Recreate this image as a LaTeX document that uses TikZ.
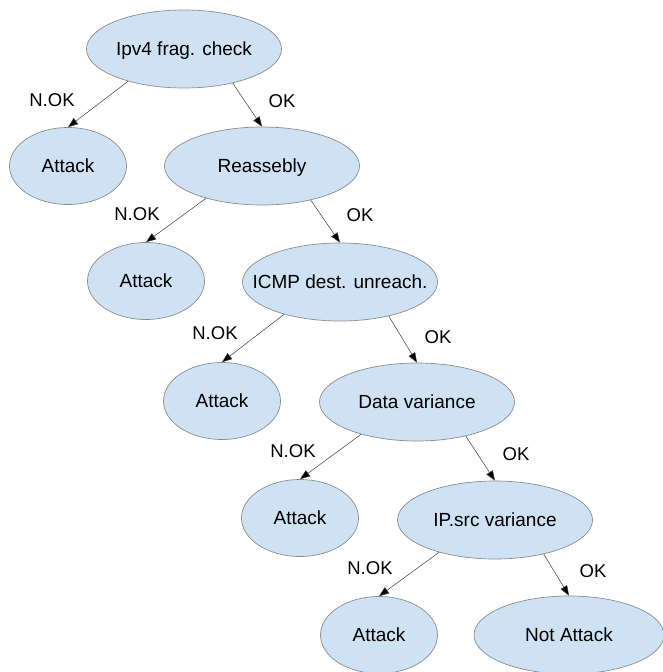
\documentclass[tikz,border=0pt]{standalone}
\usepackage{fontspec}
\setmainfont{Liberation Sans}
\usetikzlibrary{shapes.geometric,arrows.meta}
\definecolor{nodefill}{HTML}{CFE2F3}
\definecolor{nodeline}{HTML}{8C8C8C}
\definecolor{edgeline}{HTML}{3C3C3C}
\tikzset{
  test/.style={ellipse, draw=nodeline, line width=0.7pt, fill=nodefill,
    minimum width=195pt, minimum height=78pt, inner sep=0pt,
    text height=13.6pt, text depth=0pt,
    font=\fontsize{19}{22}\selectfont},
  tight/.style={test, inner xsep=-21pt},
  leaf/.style={test, minimum width=117pt, minimum height=77pt},
  wide/.style={test, minimum width=190pt},
  branch/.style={draw=edgeline, line width=0.5pt,
    -{Triangle[length=10pt,width=7.5pt,fill=black]}},
  lbl/.style={font=\fontsize{18.5}{22}\selectfont, inner sep=0pt,
    text height=13.3pt, text depth=0pt}
}
\begin{document}
\begin{tikzpicture}[x=1pt,y=-1pt]
\useasboundingbox (0,0) rectangle (662,672);

% decision chain
\node[test]  (d1) at (184,49)  {Ipv4 frag. check};
\node[leaf]  (a1) at (68,166)  {Attack};
\node[test]  (d2) at (262,166) {Reassebly};
\node[leaf]  (a2) at (146,281) {Attack};
\node[tight] (d3) at (340,282) {ICMP dest. unreach.};
\node[leaf]  (a3) at (222,401) {Attack};
\node[test]  (d4) at (417,402) {Data variance};
\node[leaf]  (a4) at (300,518) {Attack};
\node[test]  (d5) at (495,520) {IP.src variance};
\node[leaf]  (a5) at (379,635) {Attack};
\node[wide]  (na) at (569,635) {Not Attack};

% branches
\draw[branch] (d1.210) -- (a1.north);
\draw[branch] (d1.325) -- (d2.north);
\draw[branch] (d2.210) -- (a2.north);
\draw[branch] (d2.325) -- (d3.north);
\draw[branch] (d3.210) -- (a3.north);
\draw[branch] (d3.325) -- (d4.north);
\draw[branch] (d4.210) -- (a4.north);
\draw[branch] (d4.325) -- (d5.north);
\draw[branch] (d5.210) -- (a5.north);
\draw[branch] (d5.325) -- (na.north);

% branch labels
\node[lbl] (n1) at (52,100)  {N.OK};
\node[lbl] (o1) at (282,101) {OK};
\node[lbl] (n2) at (137,214) {N.OK};
\node[lbl] (o2) at (360,215) {OK};
\node[lbl] (n3) at (215,333) {N.OK};
\node[lbl] (o3) at (438,337) {OK};
\node[lbl] (n4) at (293,451) {N.OK};
\node[lbl] (o4) at (516,454) {OK};
\node[lbl] (n5) at (370,568) {N.OK};
\node[lbl] (o5) at (593,571) {OK};
\end{tikzpicture}
\end{document}
